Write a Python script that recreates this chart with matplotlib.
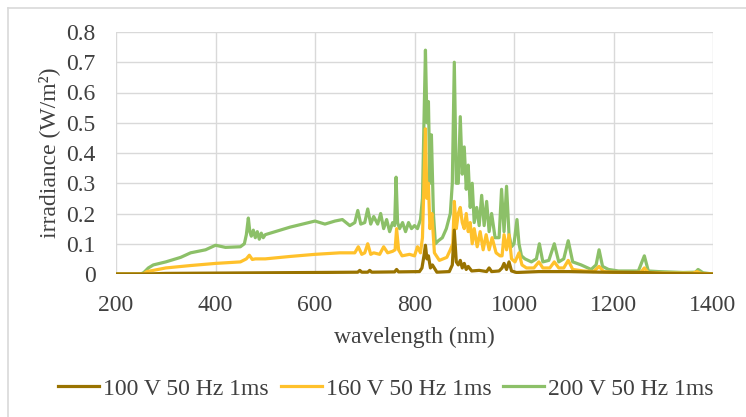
import matplotlib
matplotlib.use("Agg")
import matplotlib.pyplot as plt
from matplotlib.lines import Line2D

# wavelength (nm) grid and irradiance values (W/m^2)
wl_200 = [200, 250, 256, 265, 275, 300, 330, 350, 380, 400, 420, 450, 458, 462, 466, 469, 472, 476, 480, 484, 488, 492, 496, 500,
          550, 600, 620, 640, 655, 670, 680, 686, 692, 700, 706, 712, 718, 726, 732, 738, 744, 750, 756, 760, 763, 766, 770, 776,
          782, 788, 794, 800, 806, 812, 816, 819, 822, 825, 828, 831, 834, 838, 842, 848, 856, 864, 872, 876, 880, 884, 888, 892,
          896, 900, 904, 908, 912, 916, 920, 925, 930, 935, 940, 945, 950, 955, 962, 970, 975, 980, 985, 990, 995, 1000, 1006,
          1010, 1015, 1022, 1035, 1045, 1051, 1058, 1070, 1081, 1090, 1100, 1109, 1118, 1135, 1155, 1165, 1171, 1178, 1190, 1210,
          1230, 1250, 1262, 1270, 1290, 1340, 1365, 1370, 1380, 1400]
irr_200 = [0.0, 0.0, 0.005, 0.02, 0.03, 0.04, 0.055, 0.07, 0.08, 0.095, 0.088, 0.09, 0.1, 0.13, 0.185, 0.14, 0.125, 0.145, 0.12,
           0.14, 0.115, 0.135, 0.12, 0.13,
           0.155, 0.175, 0.165, 0.175, 0.18, 0.16, 0.17, 0.21, 0.165, 0.17, 0.215, 0.165, 0.19, 0.165, 0.2, 0.15, 0.18, 0.14,
           0.17, 0.16, 0.32, 0.17, 0.15, 0.17,
           0.14, 0.17, 0.15, 0.16, 0.15, 0.18, 0.25, 0.5, 0.74, 0.5, 0.57, 0.3, 0.46, 0.2, 0.1, 0.11, 0.12, 0.15, 0.2, 0.3,
           0.7, 0.3, 0.3, 0.52,
           0.33, 0.42, 0.28, 0.36, 0.22, 0.3, 0.17, 0.22, 0.16, 0.26, 0.16, 0.24, 0.14, 0.2, 0.12, 0.12, 0.28, 0.14, 0.29,
           0.13, 0.09, 0.1, 0.18,
           0.1, 0.06, 0.05, 0.04, 0.05, 0.1, 0.04, 0.045, 0.1, 0.04, 0.05, 0.11, 0.04, 0.03, 0.015, 0.03, 0.08, 0.025, 0.015,
           0.01, 0.01, 0.01, 0.06, 0.01, 0.008, 0.005, 0.006, 0.015, 0.004, 0.0]

wl_160 = [200, 255, 262, 275, 300, 350, 400, 450, 462, 468, 474, 480, 500, 550, 600, 650, 680, 687, 694, 700, 706, 712, 718,
          730, 738, 746, 756, 761, 764, 768, 775, 790, 800, 806, 812, 816, 819, 822, 825, 828, 831, 835, 840, 850, 865, 872,
          877, 880, 884, 888, 892, 896, 900, 904, 908, 912, 916, 920, 926, 932, 938, 944, 950, 956, 964, 972, 976, 980, 985,
          990, 995, 1002, 1010, 1016, 1025, 1040, 1050, 1058, 1072, 1081, 1090, 1100, 1109, 1118, 1140, 1160, 1171, 1180, 1200,
          1240, 1255, 1262, 1270, 1300, 1360, 1368, 1376, 1400]
irr_160 = [0.0, 0.0, 0.008, 0.012, 0.02, 0.028, 0.035, 0.04, 0.05, 0.062, 0.048, 0.05, 0.05, 0.058, 0.065, 0.07, 0.07, 0.09,
           0.065, 0.07, 0.1, 0.065, 0.07,
           0.065, 0.09, 0.07, 0.075, 0.08, 0.15, 0.08, 0.06, 0.065, 0.06, 0.09, 0.07, 0.12, 0.3, 0.48, 0.25, 0.3, 0.15,
           0.2, 0.07, 0.045, 0.055, 0.08,
           0.1, 0.24, 0.15, 0.2, 0.22, 0.17, 0.15, 0.2, 0.14, 0.17, 0.1, 0.15, 0.09, 0.14, 0.08, 0.13, 0.08, 0.12, 0.07,
           0.06, 0.06, 0.13, 0.08, 0.13,
           0.05, 0.04, 0.07, 0.03, 0.02, 0.02, 0.04, 0.02, 0.02, 0.04, 0.02, 0.02, 0.045, 0.015, 0.01, 0.008, 0.025, 0.008,
           0.006, 0.005, 0.006, 0.02, 0.004, 0.003, 0.003, 0.008, 0.002, 0.0]

wl_100 = [200, 260, 300, 400, 500, 600, 686, 690, 694, 706, 710, 714, 760, 764, 768, 810, 815, 819, 822, 825, 828, 832, 836,
          845, 870, 876, 880, 884, 888, 892, 896, 900, 904, 908, 915, 930, 945, 950, 955, 970, 976, 980, 985, 990, 995, 1005,
          1050, 1110, 1175, 1262, 1300, 1400]
irr_100 = [0.0, 0.0, 0.002, 0.003, 0.004, 0.005, 0.006, 0.012, 0.006, 0.006, 0.012, 0.006, 0.007, 0.015, 0.007, 0.008, 0.02,
           0.06, 0.095, 0.05, 0.06, 0.02, 0.03,
           0.006, 0.008, 0.03, 0.145, 0.04, 0.03, 0.045, 0.02, 0.035, 0.015, 0.025, 0.01, 0.012, 0.008, 0.02, 0.008, 0.01,
           0.02, 0.035, 0.015, 0.04, 0.01, 0.005,
           0.008, 0.008, 0.006, 0.005, 0.002, 0.0]

series_labels = ["100 V 50 Hz 1ms", "160 V 50 Hz 1ms", "200 V 50 Hz 1ms"]
x_ticks = [200, 400, 600, 800, 1000, 1200, 1400]
y_ticks = [0, 0.1, 0.2, 0.3, 0.4, 0.5, 0.6, 0.7, 0.8]
y_ticklabels = ["0", "0.1", "0.2", "0.3", "0.4", "0.5", "0.6", "0.7", "0.8"]

colors = ["#997300", "#FFC12B", "#8CC068"]

plt.rcParams['font.family'] = ['Liberation Serif', 'DejaVu Serif']
FS = 17

fig = plt.figure(figsize=(7.46, 4.17), dpi=100)
ax = fig.add_axes([116/746, 1-274/417, (713-116)/746, (274-32)/417])

ax.plot(wl_200, irr_200, color=colors[2], lw=2.3, solid_joinstyle='round', zorder=3)
ax.plot(wl_160, irr_160, color=colors[1], lw=2.3, solid_joinstyle='round', zorder=4)
ax.plot(wl_100, irr_100, color=colors[0], lw=2.3, solid_joinstyle='round', zorder=5)

ax.set_xlim(200, 1400)
ax.set_ylim(0, 0.8)
ax.set_xticks(x_ticks)
ax.set_yticks(y_ticks)
ax.set_yticklabels(y_ticklabels)
ax.grid(True, color="#D9D9D9", lw=1.0)
ax.set_axisbelow(True)
for s in ax.spines.values():
    s.set_visible(False)
ax.tick_params(length=0, labelsize=FS, colors="#404040")
ax.tick_params(axis='x', pad=15)
ax.tick_params(axis='y', pad=14.5)
ax.set_xlabel("wavelength (nm)", fontsize=FS, color="#404040", labelpad=8)
ax.set_ylabel("irradiance (W/m²)", fontsize=FS, color="#404040", labelpad=5)

handles = [Line2D([], [], color=c, lw=2.3) for c in colors]
fig.legend(handles, series_labels, loc='center', bbox_to_anchor=(386/746, 1-389/417), ncol=3, frameon=False,
           fontsize=FS, handlelength=1.74, handletextpad=0.17, columnspacing=0.5, labelcolor="#404040",
           borderaxespad=0, borderpad=0)

# outer border (top and left)
fig.add_artist(Line2D([8/746, 1.0], [1-8/417, 1-8/417], transform=fig.transFigure, color="#D9D9D9", lw=1.2))
fig.add_artist(Line2D([8/746, 8/746], [0, 1-8/417], transform=fig.transFigure, color="#D9D9D9", lw=1.2))

fig.savefig("out.png", dpi=100)
